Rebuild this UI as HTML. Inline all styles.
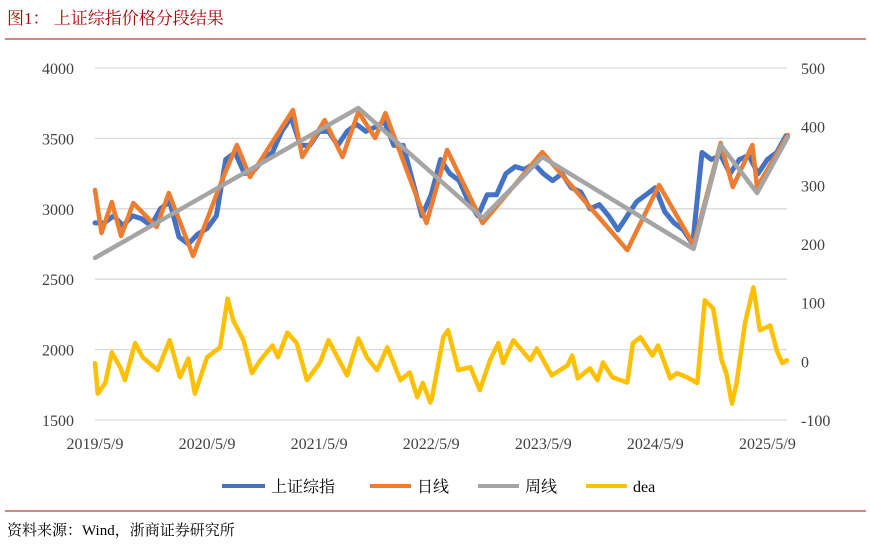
<!DOCTYPE html>
<html><head><meta charset="utf-8">
<style>
body{margin:0;background:#fff;width:870px;height:550px;overflow:hidden;font-family:"Liberation Serif","Noto Serif CJK SC",serif;}
svg text{font-family:"Liberation Serif","Noto Serif CJK SC",serif;}
</style></head>
<body>
<svg id="chart" width="870" height="550" xmlns="http://www.w3.org/2000/svg">
<text x="7" y="24" font-size="17" fill="#b00000">图1：  上证综指价格分段结果</text>
<line x1="5" y1="39" x2="866" y2="39" stroke="#c00000" stroke-width="1"/>
<g id="grid"></g>
<g id="series"></g>
<g id="axes"></g>
<g font-size="16">
<g><line x1="222" y1="486" x2="265" y2="486" stroke="#4472c4" stroke-width="4"/><text x="271" y="492" font-family="Noto Sans CJK SC">上证综指</text></g>
<g><line x1="370" y1="486" x2="411" y2="486" stroke="#ed7d31" stroke-width="4"/><text x="417" y="492" font-family="Noto Sans CJK SC">日线</text></g>
<g><line x1="478" y1="486" x2="519" y2="486" stroke="#a5a5a5" stroke-width="4"/><text x="525" y="492" font-family="Noto Sans CJK SC">周线</text></g>
<g><line x1="586" y1="486" x2="627" y2="486" stroke="#ffc000" stroke-width="4"/><text x="633" y="492">dea</text></g>
</g>
<line x1="5" y1="511" x2="866" y2="511" stroke="#c00000" stroke-width="1"/>
<text x="7" y="535" font-size="15" fill="#000">资料来源：Wind，浙商证券研究所</text>
</svg>
<script>
const xTickLabels=["2019/5/9","2020/5/9","2021/5/9","2022/5/9","2023/5/9","2024/5/9","2025/5/9"];
const leftTicks=[1500,2000,2500,3000,3500,4000];
const rightTicks=[-100,0,100,200,300,400,500];
const indexValues=[2900,2900,2950,2880,2950,2930,2880,3000,3050,2800,2750,2820,2860,2950,3350,3400,3250,3270,3350,3400,3550,3650,3450,3450,3550,3550,3450,3550,3600,3550,3580,3620,3450,3450,3200,2950,3100,3350,3250,3200,3050,2950,3100,3100,3250,3300,3280,3320,3250,3200,3250,3150,3120,3000,3030,2950,2850,2950,3050,3100,3150,2980,2900,2850,2750,3400,3350,3380,3250,3350,3380,3250,3350,3400,3520];
const dailyMonths=[0,0.7,1.8,2.8,4.1,6.6,7.9,10.5,13.7,15.2,16.6,21.2,22.2,24.6,26.5,28.2,30,31.1,35.5,37.7,41.5,47.9,57,60.4,64.1,67,68.3,70.4,70.9,74.2];
const dailyValues=[3134,2828,3048,2807,3041,2871,3112,2665,3219,3453,3226,3702,3368,3631,3368,3688,3503,3680,2899,3418,2899,3403,2707,3169,2743,3467,3155,3453,3155,3524];
const weeklyMonths=[0,28.2,41.5,47.9,64.1,67,70.9,74.2];
const weeklyValues=[2651,3716,2935,3368,2715,3453,3112,3510];
const deaMonths=[0,0.3,1.1,1.8,2.7,3.2,4.3,5.1,6.7,8.0,9.1,10.0,10.7,12.0,13.4,14.2,14.8,15.9,16.8,17.7,19.0,19.6,20.6,21.6,22.7,24.1,25.0,27.0,28.2,29.1,30.2,31.3,32.7,33.7,34.5,35.1,35.9,36.1,37.3,37.8,38.9,40.2,41.2,42.3,43.2,43.7,44.8,46.6,47.3,48.9,50.6,51.1,51.7,53.0,53.8,54.4,55.4,57.0,57.6,58.4,59.7,60.3,61.6,62.3,63.4,64.5,65.3,66.2,67.1,67.6,68.2,68.7,69.6,70.5,71.2,72.3,73.0,73.6,74.1];
const deaValues=[-3,-55,-37,15,-10,-32,31,7,-15,36,-27,5,-55,7,24,107,70,36,-20,2,27,7,49,31,-32,-2,36,-24,39,7,-15,24,-32,-19,-61,-37,-70,-61,41,53,-15,-10,-49,2,31,-3,36,2,22,-24,-7,10,-29,-12,-32,-2,-27,-36,31,41,10,27,-29,-20,-27,-37,104,90,2,-20,-72,-37,65,126,53,61,19,-3,2];

const X0=95,X1=787,MMAX=74.1;
const xs=m=>X0+(m/MMAX)*(X1-X0);
const yL=v=>420-(v-1500)/2500*352;
const yR=v=>420-(v+100)/600*352;
const NS="http://www.w3.org/2000/svg";
function mk(tag,attrs,parent){const e=document.createElementNS(NS,tag);for(const k in attrs)e.setAttribute(k,attrs[k]);parent.appendChild(e);return e;}
const grid=document.getElementById('grid'),axes=document.getElementById('axes'),ser=document.getElementById('series');
leftTicks.forEach(v=>{
  const l=mk('line',{x1:X0,x2:X1,y1:yL(v),y2:yL(v),stroke:'#d9d9d9','stroke-width':1.3},grid);
  
  
  const t=mk('text',{x:74,y:yL(v)+6,'text-anchor':'end','font-size':16,fill:'#404040'},axes);
  t.textContent=v;
  
  
});
rightTicks.forEach(v=>{
  const t=mk('text',{x:801,y:yR(v)+6,'text-anchor':'start','font-size':16,fill:'#404040'},axes);
  t.textContent=v;
  
  
});
xTickLabels.forEach((s,i)=>{
  const t=mk('text',{x:xs(i*12),y:449,'text-anchor':'middle','font-size':16,fill:'#404040'},axes);
  t.textContent=s;
  
  
});
function line(ms,vs,yf,color,w,name){
  const d=ms.map((m,i)=>(i?'L':'M')+xs(m).toFixed(1)+','+yf(vs[i]).toFixed(1)).join(' ');
  const p=mk('path',{d:d,fill:'none',stroke:color,'stroke-width':w,'stroke-linejoin':'round','stroke-linecap':'round'},ser);
  
  
}
line(indexValues.map((v,i)=>i),indexValues,yL,'#4472c4',5,'index-line');
line(dailyMonths,dailyValues,yL,'#ed7d31',4.5,'daily-line');
line(weeklyMonths,weeklyValues,yL,'#a5a5a5',4.5,'weekly-line');
line(deaMonths,deaValues,yR,'#ffc000',4.5,'dea-line');
</script>
</body></html>
